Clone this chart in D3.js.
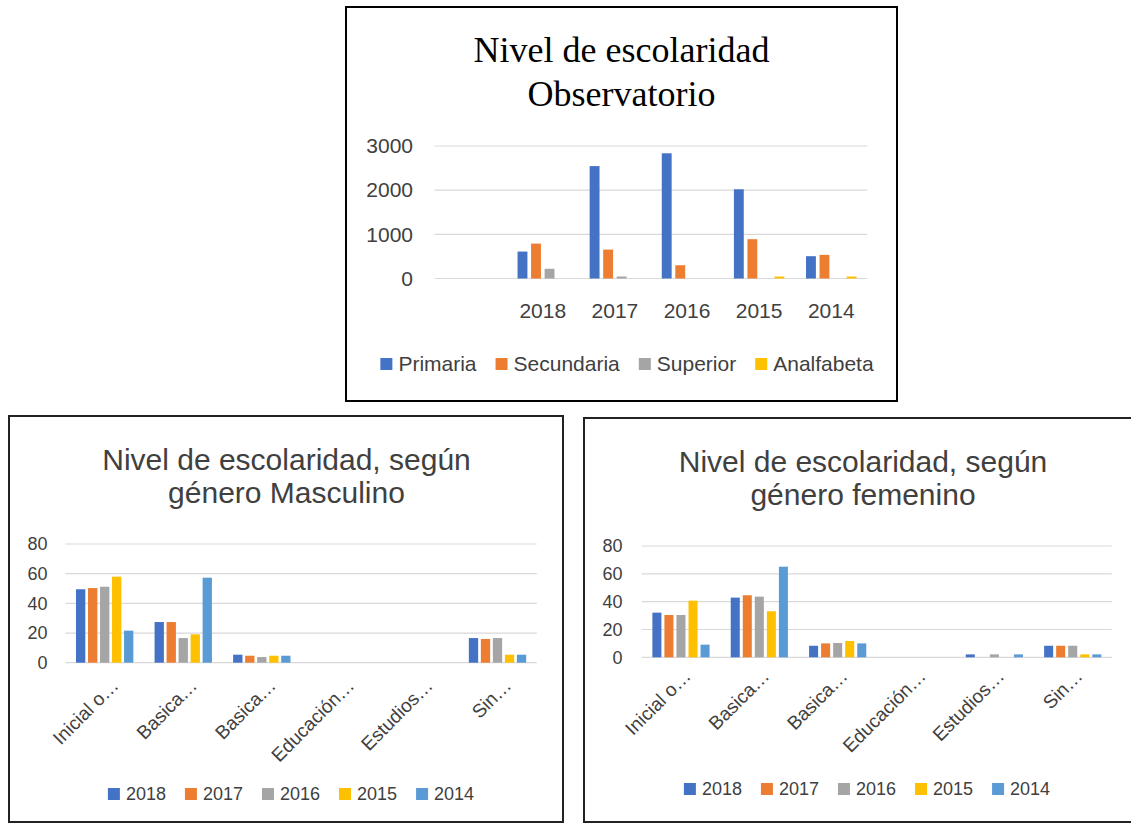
<!DOCTYPE html>
<html>
<head>
<meta charset="utf-8">
<script src="https://cdn.jsdelivr.net/npm/d3@7"></script>
<style>
  html, body { margin: 0; padding: 0; background: #fff; }
  svg { display: block; }
</style>
</head>
<body>
<svg id="chart" width="1131" height="824"></svg>
<script>
// ---------- DATA ----------
// Top chart: Nivel de escolaridad Observatorio
const topCategories = ["", "2018", "2017", "2016", "2015", "2014"];
const topSeriesNames = ["Primaria", "Secundaria", "Superior", "Analfabeta"];
const primaria   = [null, 610, 2545, 2835, 2020, 505];
const secundaria = [null, 790, 655, 300, 890, 535];
const superior   = [null, 220, 45, 0, 0, 0];
const analfabeta = [null, 0, 0, 0, 45, 45];
const topTicks = [0, 1000, 2000, 3000];

// Bottom charts: por género
const genderCategories = ["Inicial o…", "Basica…", "Basica…", "Educación…", "Estudios…", "Sin…"];
const yearNames = ["2018", "2017", "2016", "2015", "2014"];
const masc2018 = [49.5, 27.4, 5.4, 0, 0, 16.6];
const masc2017 = [50.3, 27.4, 4.7, 0, 0, 16.0];
const masc2016 = [51.2, 16.6, 3.8, 0, 0, 16.6];
const masc2015 = [58.0, 19.1, 4.7, 0, 0, 5.4];
const masc2014 = [21.6, 57.3, 4.7, 0, 0, 5.4];

const fem2018 = [32.1, 42.9, 8.3, 0, 2.1, 8.3];
const fem2017 = [30.4, 44.6, 10.0, 0, 0, 8.3];
const fem2016 = [30.4, 43.6, 10.3, 0, 2.1, 8.3];
const fem2015 = [40.7, 33.1, 11.7, 0, 0, 2.1];
const fem2014 = [9.1, 65.1, 10.0, 0, 2.1, 2.1];
const genderTicks = [0, 20, 40, 60, 80];

// ---------- STYLE ----------
const colors4 = ["#4472C4", "#ED7D31", "#A5A5A5", "#FFC000"];
const colors5 = ["#4472C4", "#ED7D31", "#A5A5A5", "#FFC000", "#5B9BD5"];
const SANS = "'Liberation Sans', Arial, sans-serif";
const SERIF = "'Liberation Serif', 'Times New Roman', serif";
const TEXT = "#404040";

const svg = d3.select("#chart");

// frames
svg.append("rect").attr("x", 346).attr("y", 7).attr("width", 551).attr("height", 394)
  .attr("fill", "#fff").attr("stroke", "#000").attr("stroke-width", 2);
svg.append("rect").attr("x", 9).attr("y", 416).attr("width", 554).attr("height", 406)
  .attr("fill", "#fff").attr("stroke", "#222").attr("stroke-width", 2);
svg.append("rect").attr("x", 584).attr("y", 418).attr("width", 560).attr("height", 404)
  .attr("fill", "#fff").attr("stroke", "#222").attr("stroke-width", 2);

function drawChart(cfg) {
  const g = svg.append("g");
  // titles
  cfg.title.forEach((t, i) => {
    g.append("text").attr("x", cfg.titleX).attr("y", cfg.titleY + i * cfg.titleLead)
      .attr("text-anchor", "middle").attr("font-family", cfg.titleFont)
      .attr("font-size", cfg.titleSize).attr("fill", cfg.titleColor).text(t);
  });

  const x0 = d3.scaleBand().domain(d3.range(cfg.categories.length))
    .range([cfg.x0, cfg.x1]).paddingInner(cfg.groupPad).paddingOuter(cfg.groupPad / 2);
  const x1 = d3.scaleBand().domain(d3.range(cfg.series.length))
    .range([0, x0.bandwidth()]).paddingInner(cfg.barPad);
  const y = d3.scaleLinear().domain([0, d3.max(cfg.ticks)]).range([cfg.yBottom, cfg.yTop]);

  // gridlines
  g.append("g").selectAll("line").data(cfg.ticks).join("line")
    .attr("x1", cfg.x0).attr("x2", cfg.x1)
    .attr("y1", d => y(d)).attr("y2", d => y(d))
    .attr("stroke", "#d9d9d9").attr("stroke-width", 1.2);

  // y axis labels via d3 axis
  const yAxis = d3.axisLeft(y).tickValues(cfg.ticks).tickFormat(d3.format("d")).tickSize(0).tickPadding(0);
  const ya = g.append("g").attr("transform", `translate(${cfg.yLabelRight},0)`).call(yAxis);
  ya.select(".domain").remove();
  ya.selectAll("text").attr("font-family", SANS).attr("font-size", cfg.tickSize)
    .attr("fill", TEXT);

  // bars
  cfg.series.forEach((vals, si) => {
    g.append("g").selectAll("rect").data(vals.map((v, ci) => ({ v, ci })).filter(d => d.v != null && d.v > 0))
      .join("rect")
      .attr("x", d => x0(d.ci) + x1(si))
      .attr("width", x1.bandwidth())
      .attr("y", d => y(d.v))
      .attr("height", d => y(0) - y(d.v))
      .attr("fill", cfg.colors[si]);
  });

  // x axis labels
  const xa = g.append("g");
  cfg.categories.forEach((c, ci) => {
    const cx = x0(ci) + x0.bandwidth() / 2;
    if (cfg.rotate) {
      xa.append("text")
        .attr("transform", `translate(${cx + cfg.xlDx},${cfg.yBottom + cfg.xlDy}) rotate(-45)`)
        .attr("text-anchor", "end").attr("font-family", SANS).attr("font-size", cfg.xlSize)
        .attr("fill", TEXT).text(c);
    } else {
      xa.append("text").attr("x", cx).attr("y", cfg.yBottom + cfg.xlDy)
        .attr("text-anchor", "middle").attr("font-family", SANS).attr("font-size", cfg.tickSize)
        .attr("fill", TEXT).text(c);
    }
  });

  // legend (centered)
  const lg = g.append("g");
  const items = cfg.legend.map((name, i) => {
    const t = lg.append("text").attr("font-family", SANS).attr("font-size", cfg.legendSize)
      .attr("fill", TEXT).attr("dy", "0.35em").attr("y", cfg.legendY).text(name);
    return { t, w: t.node().getComputedTextLength(), i };
  });
  const sq = 12, gapT = 6, gapI = 19;
  const total = d3.sum(items, d => sq + gapT + d.w) + gapI * (items.length - 1);
  let cx = cfg.legendCx - total / 2;
  items.forEach(d => {
    lg.append("rect").attr("x", cx).attr("y", cfg.legendY - sq / 2).attr("width", sq).attr("height", sq)
      .attr("fill", cfg.colors[d.i]);
    d.t.attr("x", cx + sq + gapT);
    cx += sq + gapT + d.w + gapI;
  });
}

drawChart({
  title: ["Nivel de escolaridad", "Observatorio"],
  titleX: 621.5, titleY: 62, titleLead: 44, titleFont: SERIF, titleSize: 36, titleColor: "#000",
  categories: topCategories,
  series: [primaria, secundaria, superior, analfabeta],
  colors: colors4, legend: topSeriesNames,
  ticks: topTicks,
  x0: 434.6, x1: 867.3, yBottom: 278.5, yTop: 146,
  groupPad: 0.30, barPad: 0.27,
  yLabelRight: 413, tickSize: 21,
  rotate: false, xlDy: 39,
  legendY: 364, legendCx: 627, legendSize: 21
});

drawChart({
  title: ["Nivel de escolaridad, según", "género Masculino"],
  titleX: 286.5, titleY: 470, titleLead: 33, titleFont: SANS, titleSize: 30, titleColor: TEXT,
  categories: genderCategories,
  series: [masc2018, masc2017, masc2016, masc2015, masc2014],
  colors: colors5, legend: yearNames,
  ticks: genderTicks,
  x0: 65.4, x1: 536.8, yBottom: 662.7, yTop: 544,
  groupPad: 0.27, barPad: 0.225,
  yLabelRight: 47.5, tickSize: 18, xlSize: 19,
  rotate: true, xlDx: 15, xlDy: 24,
  legendY: 794, legendCx: 291, legendSize: 18
});

drawChart({
  title: ["Nivel de escolaridad, según", "género femenino"],
  titleX: 863, titleY: 472, titleLead: 33, titleFont: SANS, titleSize: 30, titleColor: TEXT,
  categories: genderCategories,
  series: [fem2018, fem2017, fem2016, fem2015, fem2014],
  colors: colors5, legend: yearNames,
  ticks: genderTicks,
  x0: 641.8, x1: 1111.9, yBottom: 657.3, yTop: 546,
  groupPad: 0.27, barPad: 0.25,
  yLabelRight: 622.5, tickSize: 18, xlSize: 19,
  rotate: true, xlDx: 11, xlDy: 20,
  legendY: 789, legendCx: 867, legendSize: 18
});
</script>
</body>
</html>
